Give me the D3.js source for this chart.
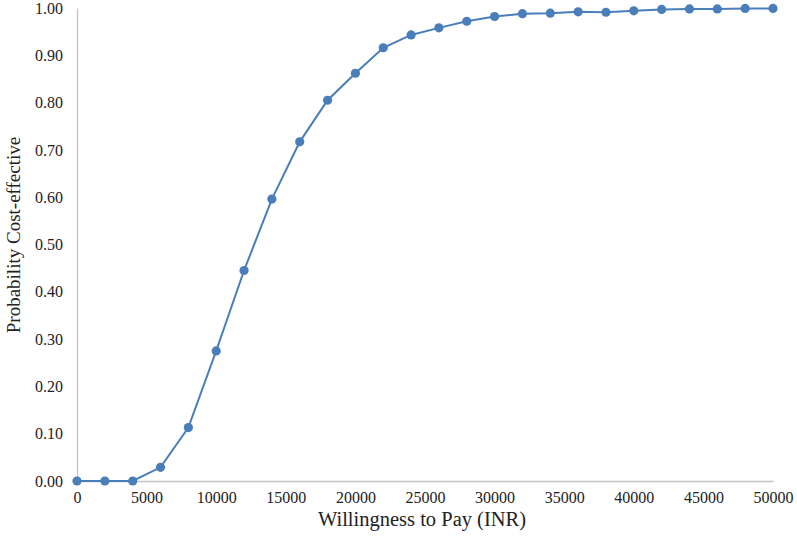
<!DOCTYPE html>
<html>
<head>
<meta charset="utf-8">
<script src="https://cdn.jsdelivr.net/npm/d3@7"></script>
<style>
  body { margin: 0; background: #fff; }
  svg text { font-family: "Liberation Serif", "Times New Roman", serif; fill: #222; }
</style>
</head>
<body>
<svg id="chart" width="797" height="546"></svg>
<script>
// willingness to pay (INR) and probability cost-effective
const wtp = [0, 2000, 4000, 6000, 8000, 10000, 12000, 14000, 16000, 18000, 20000,
  22000, 24000, 26000, 28000, 30000, 32000, 34000, 36000, 38000, 40000,
  42000, 44000, 46000, 48000, 50000];
const probCE = [0, 0, 0, 0.029, 0.113, 0.275, 0.445, 0.596, 0.717, 0.805, 0.862,
  0.916, 0.943, 0.958, 0.972, 0.982, 0.988, 0.989, 0.992, 0.991, 0.994,
  0.997, 0.998, 0.998, 0.999, 0.999];
const xTicks = [0, 5000, 10000, 15000, 20000, 25000, 30000, 35000, 40000, 45000, 50000];
const yTicks = [0, 0.1, 0.2, 0.3, 0.4, 0.5, 0.6, 0.7, 0.8, 0.9, 1.0];

const margin = { left: 77, right: 24, top: 8, bottom: 65 };
const width = 797, height = 546;

const svg = d3.select("#chart");

const x = d3.scaleLinear().domain([0, 50000]).range([margin.left, width - margin.right]);
const y = d3.scaleLinear().domain([0, 1]).range([height - margin.bottom, margin.top]);

//Axes (no tick marks, grey axis lines)
const xAxis = svg.append("g")
  .attr("transform", `translate(0,${y(0)})`)
  .call(d3.axisBottom(x).tickValues(xTicks).tickSize(0).tickPadding(11).tickFormat(d3.format("d")));
const yAxis = svg.append("g")
  .attr("transform", `translate(${x(0)},0)`)
  .call(d3.axisLeft(y).tickValues(yTicks).tickSize(0).tickPadding(14).tickFormat(d3.format(".2f")));

[xAxis, yAxis].forEach((g) => {
  g.attr("font-family", "Liberation Serif").attr("font-size", 16);
  g.select(".domain").attr("stroke", "#c3c3c3").attr("stroke-width", 1.3);
  g.selectAll("text").attr("fill", "#222");
});

//Line and markers
const line = d3.line().x((d, i) => x(wtp[i])).y((d) => y(d));

svg.append("path")
  .datum(probCE)
  .attr("fill", "none")
  .attr("stroke", "#4a7ebb")
  .attr("stroke-width", 2)
  .attr("d", line);

svg.selectAll("circle.pt")
  .data(probCE)
  .enter()
  .append("circle")
  .attr("class", "pt")
  .attr("cx", (d, i) => x(wtp[i]))
  .attr("cy", (d) => y(d))
  .attr("r", 4.6)
  .attr("fill", "#4a7ebb");

//Axis titles
svg.append("text")
  .attr("x", 422)
  .attr("y", 526)
  .attr("text-anchor", "middle")
  .attr("font-size", "20.5px")
  .text("Willingness to Pay (INR)");

svg.append("text")
  .attr("transform", "translate(20,235) rotate(-90)")
  .attr("text-anchor", "middle")
  .attr("font-size", "19px")
  .text("Probability Cost-effective");
</script>
</body>
</html>
